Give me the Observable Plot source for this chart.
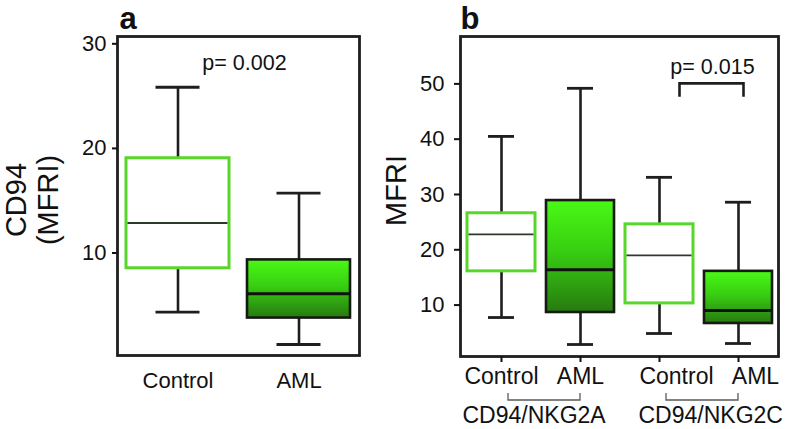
<!DOCTYPE html>
<html><head><meta charset="utf-8">
<script src="https://cdn.jsdelivr.net/npm/d3@7"></script>
<script src="https://cdn.jsdelivr.net/npm/@observablehq/plot@0.6"></script>
<style>
html,body{margin:0;padding:0;background:#fff;}
#wrap{position:relative;width:786px;height:429px;overflow:hidden;background:#fff;}
#wrap svg{position:absolute;top:0;overflow:visible;}
</style></head><body><div id="wrap"></div>
<script>
// ---------- Panel a data ----------
const aCategories = ["Control", "AML"];
const aLow    = [4.35, 1.25];
const aQ1     = [8.54, 3.78];
const aMedian = [12.87, 6.10];
const aQ3     = [19.06, 9.34];
const aHigh   = [25.85, 15.72];
const aYTicks = [10, 20, 30];
const aYTitle = ["CD94", "(MFRI)"];
const aPValue = "p= 0.002";
const aPanel = "a";

// ---------- Panel b data ----------
const bKeys    = ["C1", "A1", "C2", "A2"];
const bLabels  = ["Control", "AML", "Control", "AML"];
const bGroupIx = [0, 0, 1, 1];
const bGroups  = ["CD94/NKG2A", "CD94/NKG2C"];
const bLow     = [7.75, 2.87, 4.86, 3.05];
const bQ1      = [16.1, 8.66, 10.3, 6.67];
const bMedian  = [22.8, 16.4, 19.0, 9.02];
const bQ3      = [26.6, 28.9, 24.6, 16.1];
const bHigh    = [40.5, 49.2, 33.1, 28.6];
const bYTicks  = [10, 20, 30, 40, 50];
const bYTitle  = "MFRI";
const bPValue  = "p= 0.015";
const bPBracket = [50, 47.6]; // bracket top / leg ends (MFRI units)
const bPanel = "b";

const FONT = "'Liberation Sans', Arial, Helvetica, sans-serif";
const INK = "#1e1e1e";
const GREEN = "#58d62a";

const aRows = aCategories.map((c, i) => ({key: c, label: c, low: aLow[i], q1: aQ1[i], median: aMedian[i], q3: aQ3[i], high: aHigh[i]}));
const bRows = bKeys.map((k, i) => ({key: k, label: bLabels[i], group: bGroupIx[i], low: bLow[i], q1: bQ1[i], median: bMedian[i], q3: bQ3[i], high: bHigh[i]}));

function gradientDefs(id) {
  return () => {
    const defs = d3.create("svg:defs");
    const g = defs.append("linearGradient").attr("id", id)
      .attr("x1", 0).attr("y1", 0).attr("x2", 0).attr("y2", 1);
    g.append("stop").attr("offset", "0%").attr("stop-color", "#4af915");
    g.append("stop").attr("offset", "45%").attr("stop-color", "#38cf12");
    g.append("stop").attr("offset", "100%").attr("stop-color", "#277a10");
    return defs.node();
  };
}

function boxMarks(rows, gradId, capInset) {
  const ctrl = rows.filter(d => d.label === "Control");
  const aml = rows.filter(d => d.label === "AML");
  return [
    gradientDefs(gradId),
    Plot.ruleX(rows, {x: "key", y1: "low", y2: "high", stroke: INK, strokeWidth: 2.6}),
    Plot.tickY(rows, {x: "key", y: "low", stroke: INK, strokeWidth: 2.8, insetLeft: capInset, insetRight: capInset}),
    Plot.tickY(rows, {x: "key", y: "high", stroke: INK, strokeWidth: 2.8, insetLeft: capInset, insetRight: capInset}),
    Plot.barY(ctrl, {x: "key", y1: "q1", y2: "q3", fill: "white", stroke: GREEN, strokeWidth: 3}),
    Plot.barY(aml, {x: "key", y1: "q1", y2: "q3", fill: `url(#${gradId})`, stroke: "#151a12", strokeWidth: 2.6}),
    Plot.tickY(ctrl, {x: "key", y: "median", stroke: "#2e3a28", strokeWidth: 1.8, insetLeft: 1.5, insetRight: 1.5}),
    Plot.tickY(aml, {x: "key", y: "median", stroke: "#111", strokeWidth: 3})
  ];
}

// ---------- Panel a ----------
const plotA = Plot.plot({
  width: 375, height: 429,
  marginLeft: 117, marginRight: 16, marginTop: 36, marginBottom: 74,
  style: {fontFamily: FONT, fontSize: "22px", color: "#111", background: "transparent", overflow: "visible"},
  x: {type: "band", domain: aCategories, paddingInner: 0.15, paddingOuter: 0.075, label: null},
  y: {domain: [0.2, 30.7], label: null},
  marks: [
    ...boxMarks(aRows, "gradA", 29.5),
    Plot.frame({stroke: INK, strokeWidth: 2.8}),
    Plot.axisY(aYTicks, {tickSize: 5, tickPadding: 6, fontSize: 22, strokeWidth: 2, label: null}),
    Plot.axisX({tickSize: 0, tickPadding: 17, fontSize: 22, label: null}),
    Plot.text([aYTitle.join("\n")], {frameAnchor: "left", textAnchor: "middle", rotate: -90, dx: -86, dy: 4, fontSize: 29, lineHeight: 1.1}),
    Plot.text([aPValue], {frameAnchor: "top", lineAnchor: "bottom", dx: 6, dy: 33, fontSize: 21.5}),
    Plot.text([aPanel], {frameAnchor: "top-left", textAnchor: "start", lineAnchor: "bottom", dx: 2, dy: -8, fontSize: 31, fontWeight: "bold"})
  ]
});
plotA.style.left = "0px";

// ---------- Panel b ----------
const groupRows = bGroups.map((g, i) => ({name: g, keys: bKeys.filter((k, j) => bGroupIx[j] === i)}));

const bracketsMark = (index, {x}, values, dims) => {
  const g = d3.create("svg:g").attr("fill", "none").attr("stroke", "#5a5a5a").attr("stroke-width", 1.3);
  const half = x.bandwidth() / 2;
  const yb = dims.height - dims.marginBottom + 44, yt = yb - 7;
  for (const gr of groupRows) {
    const xa = x(gr.keys[0]) + half + 7, xb = x(gr.keys[1]) + half;
    g.append("path").attr("d", `M${xa},${yt}V${yb}H${xb}V${yt}`);
  }
  return g.node();
};

const pBracketMark = (index, {x, y}) => {
  const half = x.bandwidth() / 2;
  const keys = groupRows[1].keys;
  const xc = (x(keys[0]) + x(keys[1])) / 2 + half + 13;
  const w = 32;
  const yt = y(bPBracket[0]), yl = y(bPBracket[1]);
  return d3.create("svg:path")
    .attr("d", `M${xc - w},${yl}V${yt}H${xc + w}V${yl}`)
    .attr("fill", "none").attr("stroke", INK).attr("stroke-width", 2.6).node();
};

const plotB = Plot.plot({
  width: 411, height: 429,
  marginLeft: 85, marginRight: 8, marginTop: 36, marginBottom: 73,
  style: {fontFamily: FONT, fontSize: "22px", color: "#111", background: "transparent", overflow: "visible"},
  x: {type: "band", domain: bKeys, paddingInner: 0.145, paddingOuter: 0.0725, label: null},
  y: {domain: [0.7, 58.57], label: null},
  marks: [
    ...boxMarks(bRows, "gradB", 21),
    Plot.frame({stroke: INK, strokeWidth: 2.8}),
    Plot.axisY(bYTicks, {tickSize: 6, tickPadding: 10, fontSize: 22, strokeWidth: 2, label: null}),
    Plot.axisX({tickSize: 6, strokeWidth: 2, tickFormat: () => "", label: null}),
    Plot.text(bRows.filter(d => d.group === 0), {x: "key", text: "label", frameAnchor: "bottom", lineAnchor: "bottom", dy: 27, fontSize: 23}),
    Plot.text(bRows.filter(d => d.group === 1), {x: "key", text: "label", frameAnchor: "bottom", lineAnchor: "bottom", dx: 17, dy: 27, fontSize: 23}),
    Plot.text([groupRows[0]], {x: d => d.keys[0], text: "name", frameAnchor: "bottom", lineAnchor: "bottom", textAnchor: "start", dx: -39, dy: 66, fontSize: 23}),
    Plot.text([groupRows[1]], {x: d => d.keys[0], text: "name", frameAnchor: "bottom", lineAnchor: "bottom", textAnchor: "start", dx: -21, dy: 66, fontSize: 23}),
    bracketsMark,
    pBracketMark,
    Plot.text([bPValue], {frameAnchor: "top-right", lineAnchor: "bottom", textAnchor: "middle", dx: -66, dy: 37, fontSize: 21.5}),
    Plot.text([bYTitle], {frameAnchor: "left", textAnchor: "middle", rotate: -90, dx: -63.5, dy: -6, fontSize: 29}),
    Plot.text([bPanel], {frameAnchor: "top-left", textAnchor: "start", lineAnchor: "bottom", dx: 0, dy: -8, fontSize: 31, fontWeight: "bold"})
  ]
});
plotB.style.left = "375px";

const wrap = document.getElementById("wrap");
wrap.appendChild(plotA);
wrap.appendChild(plotB);
</script>
</body></html>
